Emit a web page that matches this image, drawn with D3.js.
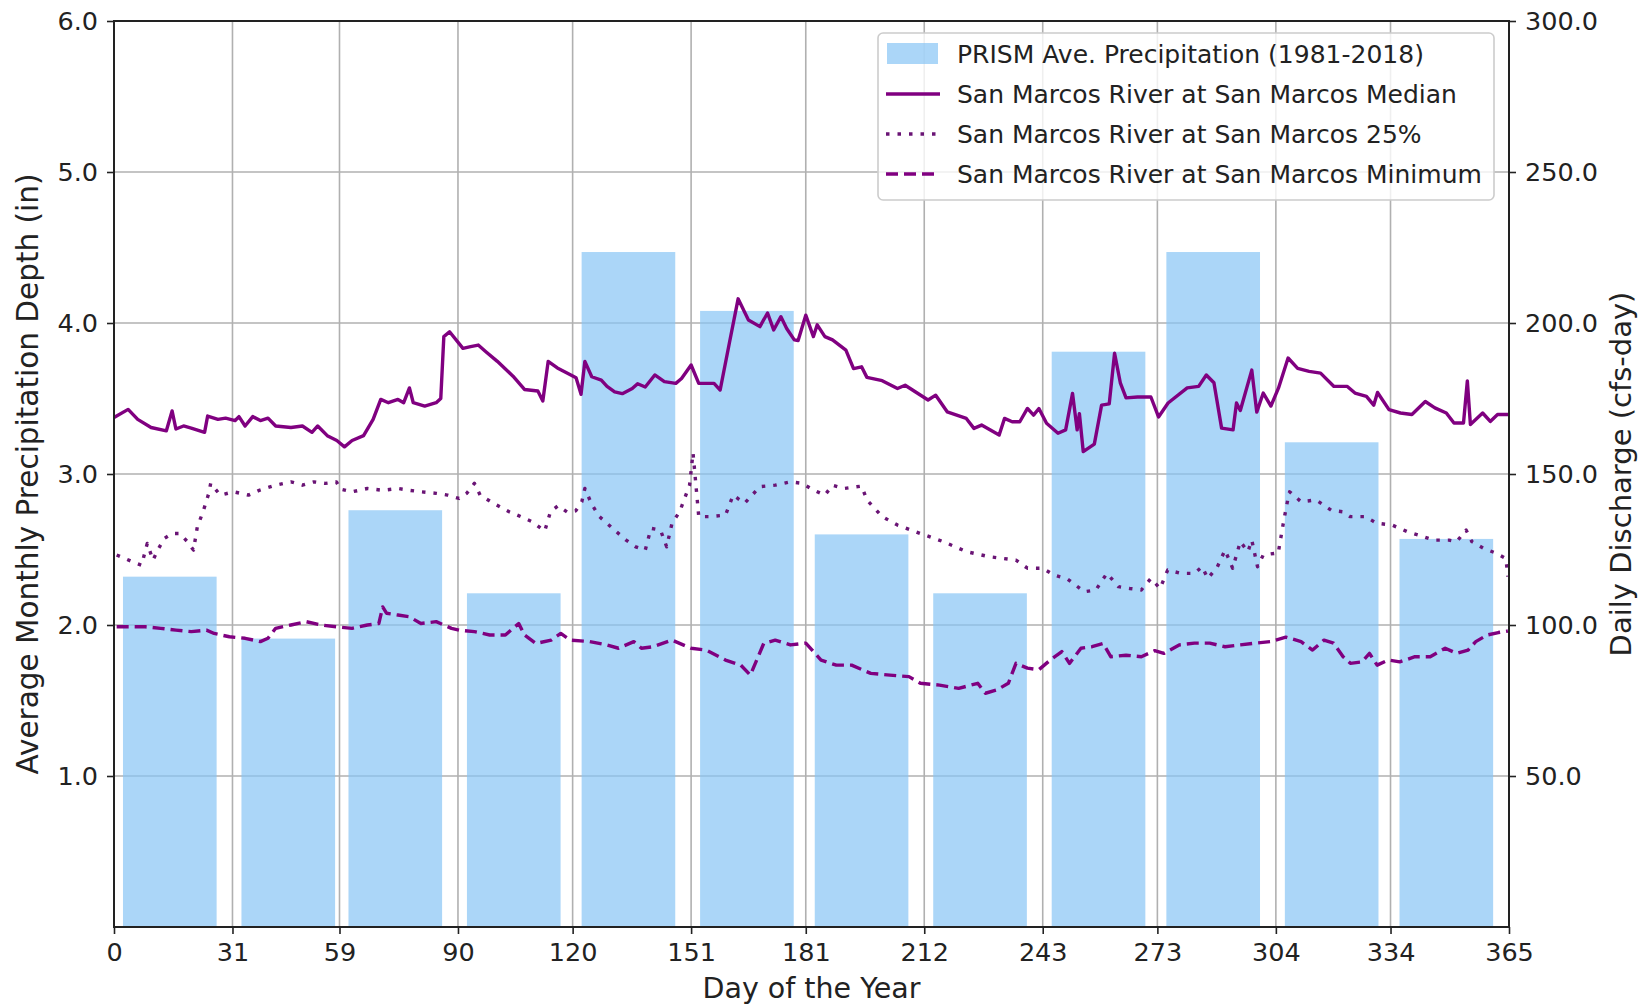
<!DOCTYPE html>
<html>
<head>
<meta charset="utf-8">
<script src="https://cdn.jsdelivr.net/npm/d3@7/dist/d3.min.js"></script>
<style>
body{margin:0;background:#fff;}
text{font-family:"DejaVu Sans",sans-serif;fill:#222;}
</style>
</head>
<body>
<svg id="chart" width="1646" height="1006"></svg>
<script>
// monthly precipitation (in), bar per month
const monthStart = [0, 31, 59, 90, 120, 151, 181, 212, 243, 273, 304, 334];
const precip = [2.32, 1.91, 2.76, 2.21, 4.47, 4.08, 2.60, 2.21, 3.81, 4.47, 3.21, 2.57];

// tick labels
const xTicks = [0, 31, 59, 90, 120, 151, 181, 212, 243, 273, 304, 334, 365];
const leftTicks = [1, 2, 3, 4, 5, 6];
const rightTicks = [50, 100, 150, 200, 250, 300];

// daily discharge: [day, cfs]
const median = [[0,168.7],[3.7,171.4],[6.2,168.1],[9.7,165.4],[13.7,164.3],[15.2,170.9],[16.2,164.9],[18.2,165.9],[20.2,165.2],[23.7,163.8],[24.5,169.2],[27.2,168.1],[29.2,168.5],[31.7,167.7],[32.7,169],[34.3,165.9],[36.3,169],[38.3,167.7],[40.3,168.5],[42.3,165.9],[46.3,165.4],[49.3,165.9],[51.8,163.8],[53.3,165.9],[55.8,162.7],[58.3,161.1],[60.3,159],[62.3,161.1],[65.3,162.7],[67.8,168.1],[69.8,174.7],[71.8,173.6],[74.3,174.7],[75.8,173.6],[77.3,178.5],[78.3,173.6],[81.3,172.5],[84.3,173.6],[85.5,175],[86.3,195.5],[87.8,197.1],[91.3,191.6],[93.3,192.2],[95.3,192.7],[97.3,190.5],[100.3,187.3],[104.4,182.4],[107.4,178],[110.9,177.5],[112.2,174.2],[113.6,187.3],[116,185.1],[118.4,183.5],[120.9,181.9],[122.2,176.4],[123.2,187.3],[125,182.2],[127.5,181.1],[129,179],[131,177.2],[133,176.6],[135.6,178.3],[137,179.9],[139,178.8],[141.5,182.8],[144,180.6],[147,180],[148.5,181.6],[151,186.1],[153,180],[157,180],[158.6,177.8],[161,193.3],[163.3,208],[166,201],[169,198.8],[171,203.3],[172.6,197.7],[174.5,202.1],[176,198.2],[178,194.4],[179,194.2],[181,202.6],[183,195.5],[184,199.4],[186,195.5],[188,194.4],[191.5,191],[193.5,184.9],[195.6,185.5],[197,182],[201,180.9],[205,178.3],[207,179.4],[213,174.5],[215,176.1],[218,170.6],[223,168.4],[225,165.1],[227,166.2],[231.6,162.9],[233,168.4],[235,167.3],[237,167.3],[239,171.7],[240.6,169.5],[242,171.7],[244,166.8],[247,163.5],[249,164.6],[250.8,176.7],[252,164.6],[252.6,170],[253.6,157.4],[256.5,159.9],[258.4,172.8],[260.4,173.2],[261.8,190],[263.3,180.2],[264.8,175.2],[267.8,175.5],[271.3,175.5],[273.3,168.9],[275.8,173.5],[280.8,178.5],[283.8,179],[285.8,182.8],[287.8,180.2],[289.8,165.2],[292.8,164.6],[293.7,173.5],[294.7,171],[297.7,184.4],[299,170.5],[300.7,176.8],[302.7,172.5],[304.7,178.5],[307.2,188.4],[309.7,185],[312.7,184],[315.7,183.4],[319.2,179],[322.7,179],[324.7,176.8],[327.7,175.7],[329.6,172.8],[330.6,177],[333.6,171.3],[336.6,170.2],[339.6,169.7],[343.1,174],[345.6,171.9],[348.6,170.2],[350.6,166.9],[353.1,166.9],[354.1,180.8],[354.9,166.4],[358.1,170.2],[360.1,167.4],[362,169.7],[365,169.7]];

const q25 = [[0.7,123.2],[4.7,121],[7.2,119.8],[8.7,127],[10.2,121.5],[11.7,125.4],[13.2,128.7],[15.2,130.3],[17.2,130.3],[19.2,127.6],[20.8,124.8],[21.8,132.5],[23.3,137.5],[24.8,143.6],[25.3,146.9],[27.8,143],[31.3,144.1],[35.2,143],[38.2,144.7],[42.3,146.3],[46.3,147.4],[49.3,146.3],[52.3,147.4],[55.3,146.9],[58.2,147.4],[59.2,145],[62.3,144.1],[66.3,145.2],[70.3,144.6],[74.3,145.2],[77.3,144.6],[80.3,144.1],[84.3,143.6],[87.3,143],[90.3,141.9],[92.3,143.6],[94.3,146.9],[95.8,143],[99.3,140.3],[103.4,137.5],[106.4,135.9],[109.4,134.2],[112.7,131.1],[114.2,137.5],[116.2,139.5],[118.6,137.4],[120.8,137.8],[122.4,140.8],[123.2,145.2],[125,140],[127,135.9],[131,131.4],[134,128.1],[136.5,125.9],[139,124.8],[140.5,132],[143,131.4],[144.6,125.9],[146,133.7],[148,137.5],[150.6,146.3],[151.5,157],[153,135.9],[156,135.9],[160,136.4],[162,143],[165,140.3],[169,145.8],[173,146.3],[177,147.4],[180,146.9],[183,144.7],[186,143],[188,146.3],[191,145.2],[195.6,146],[197,141.4],[201,135.9],[205,133.1],[211,130.3],[217,127.6],[223,124.3],[229,122.6],[236,121.5],[239,118.8],[243,118.8],[246,116.5],[249.5,115.2],[253.9,111],[256.9,111.6],[259.8,117.1],[262.8,112.7],[265.8,112.1],[268.8,111.6],[271.3,115.4],[273.7,112.1],[275.7,118.2],[279.2,117.1],[282.7,117.1],[284.7,119.3],[286.2,115.4],[288.7,119.3],[290.7,124.8],[292.7,118.8],[294.7,127.6],[296.7,124.3],[297.7,128.1],[299.2,119.3],[300.7,123.2],[303.6,123.7],[304.6,123.7],[306.1,134.8],[307.1,141.4],[307.6,144.1],[310.6,140.8],[314.5,141.4],[318.5,138],[321.5,137.5],[323.4,135.9],[327.4,135.9],[330.4,133.7],[334.4,133.1],[338.4,130.9],[341.3,129.8],[345.3,128.1],[349.3,128.1],[351.3,127.6],[353.8,131.4],[355.3,127.6],[358.3,125.4],[361.8,123.7],[364.2,122],[364.7,116]];

const minimum = [[0.7,99.4],[4.7,99.4],[8.2,99.4],[12.2,98.9],[16.2,98.3],[20.2,97.8],[24.2,98.3],[26.2,97.2],[30.2,96.1],[34.3,95.6],[38.3,94.5],[40.3,95.6],[42.3,98.9],[46.3,100],[50.3,101.1],[54.3,100],[58.3,99.4],[62.3,98.9],[66.3,100],[69.3,100.5],[70.3,106],[71.3,103.9],[74.3,103.3],[77.3,102.7],[80.3,100.5],[84.3,101.1],[88.3,98.9],[90.3,98.3],[94.3,97.8],[98.3,96.7],[102.4,96.7],[105.9,100.5],[107.4,96.7],[110.4,93.9],[114.4,95],[116.9,97.2],[119.4,95],[124.4,94.5],[129,93.4],[132,92.3],[136,94.5],[138,92.3],[141,92.8],[146,95],[151,92.3],[155,91.7],[160,88.4],[164,86.7],[166.5,83.4],[170,93.9],[173,95],[177,93.4],[181,94],[185,88.4],[189,86.7],[193,86.7],[198,84],[203,83.4],[208,82.9],[211,80.7],[216,80.1],[221,79],[226,80.7],[228,77.4],[231,78.5],[234,80.7],[236,87.3],[239,85.7],[242,85.2],[245,88.4],[248,91.2],[250,87.3],[253,92.3],[255.9,92.8],[258.8,93.9],[260.8,89.5],[264.8,90],[268.8,89.5],[272.3,91.5],[274.7,90.6],[278.7,93.4],[282.7,94],[286.7,94],[290.7,92.8],[294.7,93.4],[298.7,94],[302.6,94.5],[306.6,96],[310.6,94.5],[313.6,91.7],[316.6,95],[319.1,94],[321.6,89.5],[323.5,87.3],[326.5,87.8],[328.5,90.6],[330.5,86.7],[333.4,88.4],[336.4,87.8],[340.4,89.5],[344.4,89.5],[348.3,92.3],[351.3,90.6],[354.3,91.7],[356.3,94.5],[359.3,96.7],[362.2,97.5],[364.7,98]];

const legendLabels = [
    'PRISM Ave. Precipitation (1981-2018)',
    'San Marcos River at San Marcos Median',
    'San Marcos River at San Marcos 25%',
    'San Marcos River at San Marcos Minimum'
];

const plotLeft = 114, plotRight = 1509, plotTop = 21, plotBottom = 927;
const lineColor = '#800080';

const svg = d3.select('#chart');

const x = d3.scaleLinear().domain([0, 365]).range([plotLeft, plotRight]);
const yL = d3.scaleLinear().domain([0, 6]).range([plotBottom, plotTop]);
const yR = d3.scaleLinear().domain([0, 300]).range([plotBottom, plotTop]);

// grid
svg.append('g').selectAll('line').data(xTicks).enter().append('line')
    .attr('x1', d => x(d)).attr('x2', d => x(d))
    .attr('y1', plotTop).attr('y2', plotBottom)
    .attr('stroke', '#b0b0b0').attr('stroke-width', 1.6);
svg.append('g').selectAll('line').data(leftTicks).enter().append('line')
    .attr('x1', plotLeft).attr('x2', plotRight)
    .attr('y1', d => yL(d)).attr('y2', d => yL(d))
    .attr('stroke', '#b0b0b0').attr('stroke-width', 1.6);

// bars
const barW = 24.5;
svg.append('g').selectAll('rect').data(precip).enter().append('rect')
    .attr('x', (d, i) => x(monthStart[i] + 14.6 - barW / 2))
    .attr('width', x(barW) - x(0))
    .attr('y', d => yL(d))
    .attr('height', d => yL(0) - yL(d))
    .attr('fill', '#87c5f5')
    .attr('fill-opacity', 0.7);

// lines
const line = d3.line().x(d => x(d[0])).y(d => yR(d[1]));
const series = [
    {data: median, dash: null, color: lineColor},
    {data: q25, dash: '3.5,8', color: '#6a1475'},
    {data: minimum, dash: '12,6', color: lineColor}
];
series.forEach(s => {
    svg.append('path').datum(s.data)
        .attr('d', line)
        .attr('fill', 'none')
        .attr('stroke', s.color)
        .attr('stroke-width', 3.4)
        .attr('stroke-linejoin', 'round')
        .attr('stroke-dasharray', s.dash);
});

// axes
const fmt = d3.format('.1f');
const xAxis = svg.append('g').attr('transform', `translate(0,${plotBottom})`)
    .call(d3.axisBottom(x).tickValues(xTicks).tickSize(7).tickPadding(9));
const lAxis = svg.append('g').attr('transform', `translate(${plotLeft},0)`)
    .call(d3.axisLeft(yL).tickValues(leftTicks).tickFormat(fmt).tickSize(7).tickPadding(9));
const rAxis = svg.append('g').attr('transform', `translate(${plotRight},0)`)
    .call(d3.axisRight(yR).tickValues(rightTicks).tickFormat(fmt).tickSize(7).tickPadding(9));
[xAxis, lAxis, rAxis].forEach(a => {
    a.select('.domain').remove();
    a.selectAll('line').attr('stroke', '#222').attr('stroke-width', 1.6);
    a.selectAll('text').attr('font-size', 25.5).attr('font-family', 'DejaVu Sans').attr('fill', '#222');
});

// frame
svg.append('rect')
    .attr('x', plotLeft).attr('y', plotTop)
    .attr('width', plotRight - plotLeft).attr('height', plotBottom - plotTop)
    .attr('fill', 'none').attr('stroke', '#222').attr('stroke-width', 2);

// axis labels
svg.append('text')
    .attr('x', (plotLeft + plotRight) / 2).attr('y', 998)
    .attr('text-anchor', 'middle').attr('font-size', 28.5)
    .text('Day of the Year');
svg.append('text')
    .attr('transform', `translate(38,${(plotTop + plotBottom) / 2}) rotate(-90)`)
    .attr('text-anchor', 'middle').attr('font-size', 29.5)
    .text('Average Monthly Precipitation Depth (in)');
svg.append('text')
    .attr('transform', `translate(1631,${(plotTop + plotBottom) / 2}) rotate(-90)`)
    .attr('text-anchor', 'middle').attr('font-size', 29)
    .text('Daily Discharge (cfs-day)');

// legend
const lg = svg.append('g').attr('transform', 'translate(878,33)');
lg.append('rect')
    .attr('width', 616).attr('height', 167)
    .attr('rx', 5).attr('ry', 5)
    .attr('fill', 'white').attr('fill-opacity', 0.8)
    .attr('stroke', '#cccccc').attr('stroke-width', 1.6);
const rowY = [20.5, 61, 101, 141];
lg.append('rect')
    .attr('x', 9).attr('y', rowY[0] - 10.5)
    .attr('width', 51).attr('height', 21)
    .attr('fill', '#87c5f5').attr('fill-opacity', 0.7);
series.forEach((s, i) => {
    lg.append('line')
        .attr('x1', 8).attr('x2', 62)
        .attr('y1', rowY[i + 1]).attr('y2', rowY[i + 1])
        .attr('stroke', s.color).attr('stroke-width', 3.4)
        .attr('stroke-dasharray', s.dash);
});
lg.selectAll('.lgtext').data(legendLabels).enter().append('text')
    .attr('x', 79).attr('y', (d, i) => rowY[i])
    .attr('dy', '0.36em')
    .attr('font-size', 25)
    .text(d => d);
</script>
</body>
</html>
